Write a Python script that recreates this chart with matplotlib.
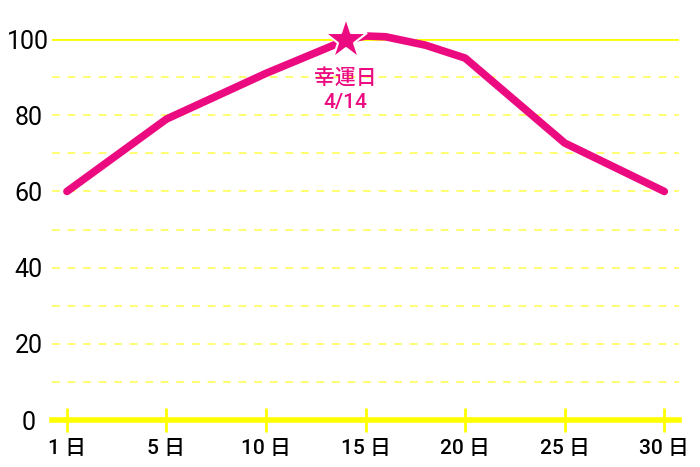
import numpy as np
import matplotlib.pyplot as plt

plt.rcParams['font.family'] = ['Roboto', 'Noto Sans CJK JP', 'DejaVu Sans']

# x categories (evenly spaced on the axis)
day_ticks = [1, 5, 10, 15, 20, 25, 30]
tick_labels = ['1 日', '5 日', '10 日', '15 日', '20 日', '25 日', '30 日']

# luck curve
days = [1, 5, 10, 14, 15, 16, 18, 20, 25, 30]
luck = [60, 79, 91, 99.7, 100.8, 100.6, 98.4, 95, 72.7, 60]

lucky_day = 14
lucky_val = 99.7
lucky_text = '幸運日\n4/14'

y_ticks = [0, 20, 40, 60, 80, 100]
y_minor = [10, 30, 50, 70, 90]

PINK = '#ec0a80'
YELLOW = '#ffff00'
LIGHT_YELLOW = '#ffff70'

# map day -> category position (piecewise linear between the tick categories)
pos = np.arange(len(day_ticks))
def day_pos(d):
    return np.interp(d, day_ticks, pos)

fig = plt.figure(figsize=(7, 4.67), dpi=100)
ax = fig.add_axes([0.0743, 0.1006, 0.896, 0.8158])

ax.set_xlim(-0.15, 6.15)
ax.set_ylim(0, 100)

# gridlines
for v in y_ticks[1:-1] + y_minor:
    ax.axhline(v, color=LIGHT_YELLOW, lw=1.4, ls=(0, (4, 4)), zorder=1)
ax.axhline(100, color=YELLOW, lw=2, zorder=1)

for s in ['top', 'right', 'left']:
    ax.spines[s].set_visible(False)
ax.spines['bottom'].set_color(YELLOW)
ax.spines['bottom'].set_linewidth(4)

ax.plot(day_pos(days), luck, color=PINK, lw=5.5, solid_capstyle='round',
        solid_joinstyle='round', clip_on=False, zorder=3)
ax.plot(day_pos(lucky_day), lucky_val, marker='*', markersize=32, color=PINK,
        markeredgecolor='white', markeredgewidth=1.5, clip_on=False, zorder=4)
ax.text(day_pos(lucky_day), lucky_val - 7.2, lucky_text, color=PINK, fontsize=15,
        fontweight='medium', ha='center', va='top', linespacing=1.4, zorder=5)

ax.set_xticks(pos)
ax.set_xticklabels(tick_labels, fontsize=15, fontweight='medium')
ax.tick_params(axis='x', direction='inout', length=17, width=2, color=YELLOW, pad=5)

ax.set_yticks(y_ticks)
ax.set_yticklabels([str(v) for v in y_ticks], fontsize=18, ha='center')
ax.tick_params(axis='y', length=0, pad=17)

fig.savefig('out.png', dpi=100)
